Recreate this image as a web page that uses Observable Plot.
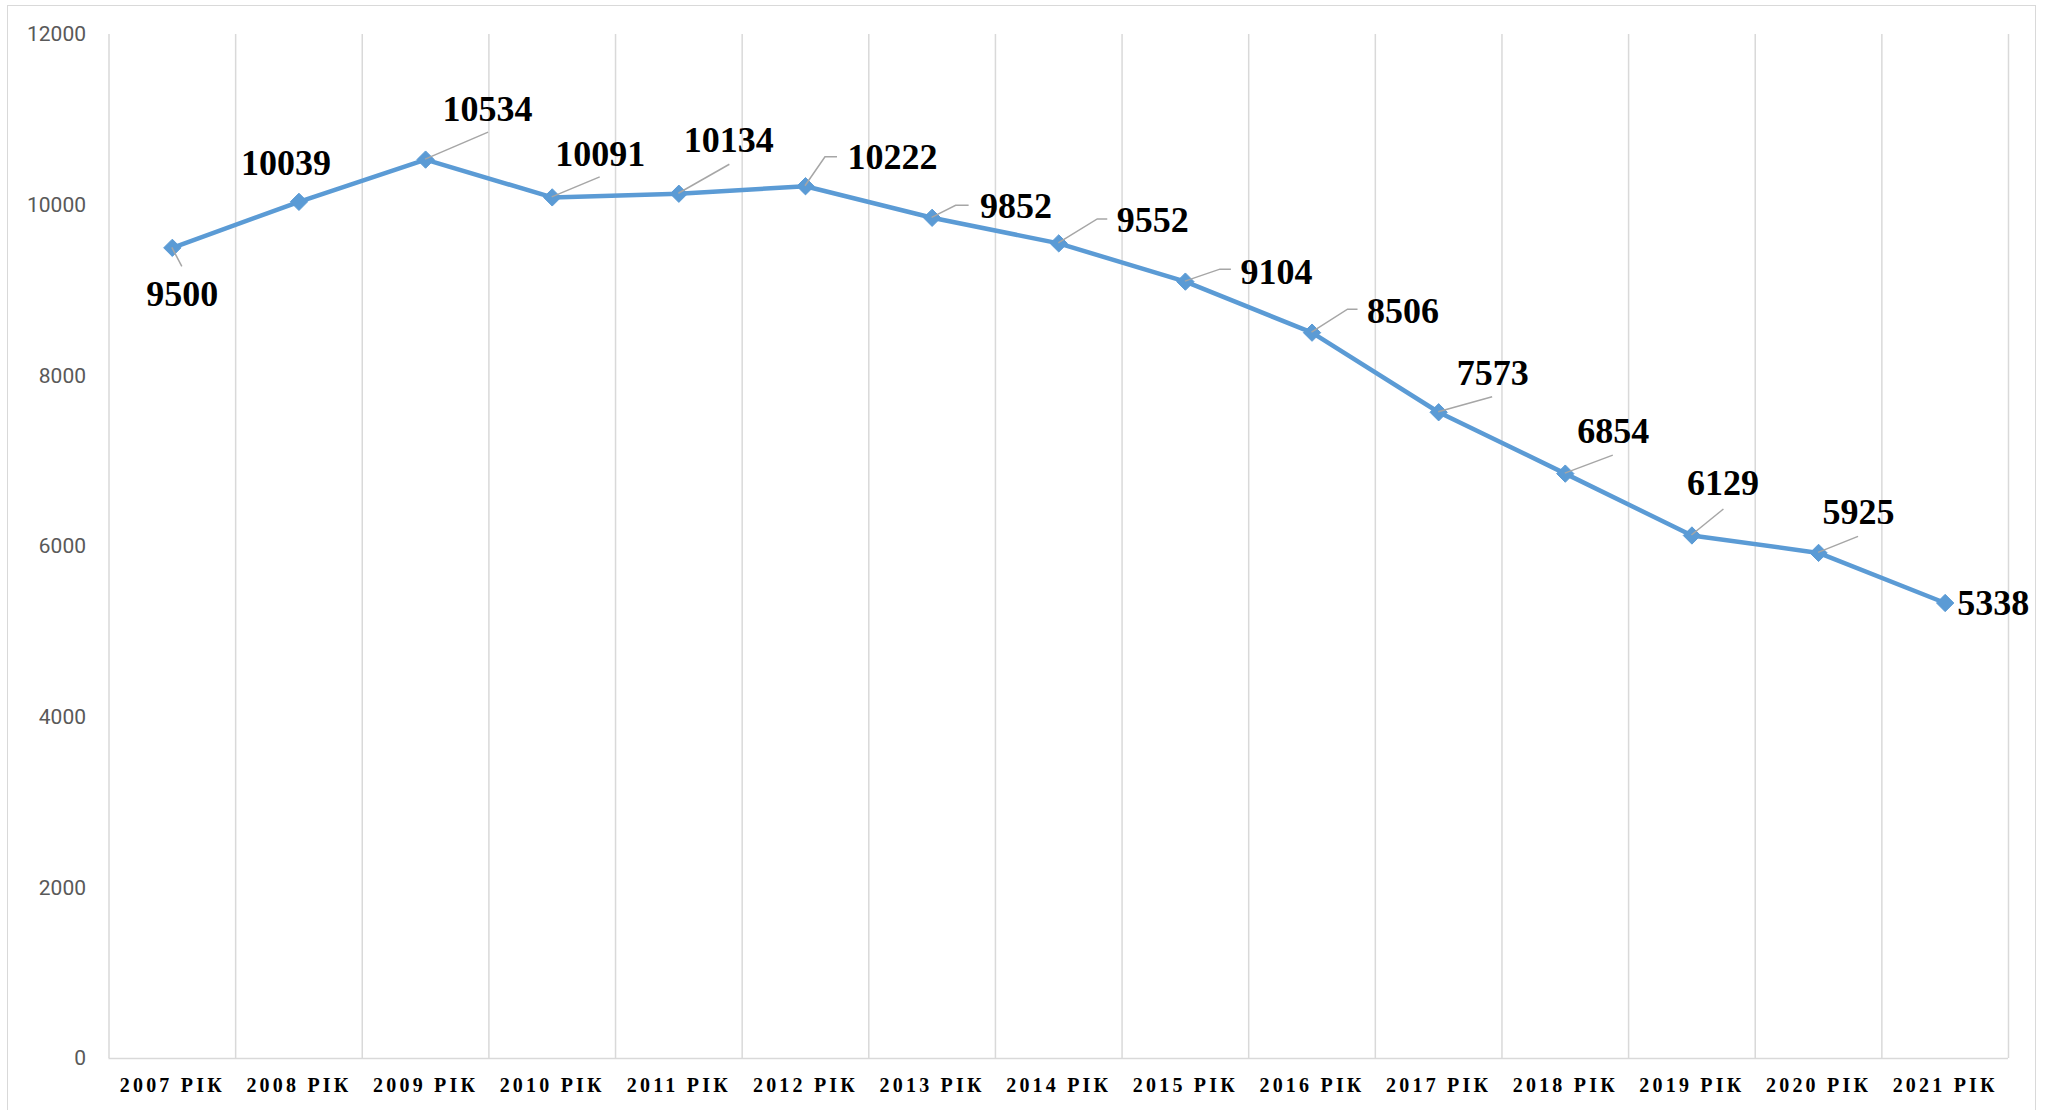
<!DOCTYPE html>
<html>
<head>
<meta charset="utf-8">
<script src="https://cdn.jsdelivr.net/npm/d3@7"></script>
<script src="https://cdn.jsdelivr.net/npm/@observablehq/plot@0.6"></script>
<style>
  html, body { margin: 0; padding: 0; background: #fff; overflow: hidden; }
  #wrap { position: relative; width: 2051px; height: 1110px; }
  #border { position: absolute; left: 7px; top: 5px; width: 2029px; height: 1106px; border: 1.5px solid #d9d9d9; box-sizing: border-box; pointer-events: none; }
  g[aria-label="x-axis tick label"] text { letter-spacing: 3.2px; }
</style>
</head>
<body>
<div id="wrap"><div id="border"></div></div>
<script>
// ---- data ----
const years = ["2007 РІК","2008 РІК","2009 РІК","2010 РІК","2011 РІК","2012 РІК","2013 РІК","2014 РІК","2015 РІК","2016 РІК","2017 РІК","2018 РІК","2019 РІК","2020 РІК","2021 РІК"];
const values = [9500, 10039, 10534, 10091, 10134, 10222, 9852, 9552, 9104, 8506, 7573, 6854, 6129, 5925, 5338];
const yTicks = [0, 2000, 4000, 6000, 8000, 10000, 12000];

// ---- layout (pixel offsets of data labels & leader lines from each point) ----
const labelOffsets = [[10,47],[-13,-38],[62,-50],[48,-43],[50,-53],[87,-29],[84,-11],[94,-23],[91,-9],[91,-21],[54,-39],[48,-42],[31,-52],[40,-40],[48,0]];
// leader polylines (null = no leader)
const leaders = [
  [[10,19]], null, [[63,-27]], [[48,-20]], [[51,-29]],
  [[20,-29],[32,-29]], [[24,-12],[37,-12]], [[39,-24],[49,-24]], [[35,-12],[46,-12]], [[36,-23],[46,-23]],
  [[54,-15]], [[48,-18]], [[32,-26]], [[40,-16]], null
];

const rows = years.map((y, i) => ({i, pos: i + 0.5, year: y, value: values[i]}));
const blue = "#5B9BD5";

const leaderMark = (index, scales) => {
  const g = d3.create("svg:g").attr("fill", "none").attr("stroke", "#a6a6a6").attr("stroke-width", 1.5);
  rows.forEach((r, i) => {
    if (!leaders[i]) return;
    const x0 = scales.x(r.pos), y0 = scales.y(r.value);
    const pts = [[x0, y0], ...leaders[i].map(([dx, dy]) => [x0 + dx, y0 + dy])];
    g.append("path").attr("d", "M" + pts.map(p => p.join(",")).join("L"));
  });
  return g.node();
};

const chart = Plot.plot({
  width: 2051,
  height: 1110,
  marginLeft: 108.5,
  marginRight: 43,
  marginTop: 34,
  marginBottom: 52,
  style: {background: "transparent", overflow: "visible"},
  x: {type: "linear", domain: [0, years.length], axis: null, label: null},
  y: {domain: [0, 12000], axis: null, label: null},
  marks: [
    Plot.ruleX(d3.range(years.length + 1), {x: d => d, y1: 0, y2: 12000, stroke: "#d9d9d9", strokeWidth: 1.5}),
    Plot.ruleY([0], {stroke: "#d9d9d9", strokeWidth: 1.5}),
    Plot.axisY({ticks: yTicks, label: null, tickSize: 0, tickPadding: 23, tickFormat: d => String(d), fontSize: 21, fill: "#595959", fontFamily: "Roboto, 'Liberation Sans', sans-serif"}),
    Plot.axisX({ticks: rows.map(r => r.pos), label: null, tickSize: 0, tickPadding: 19, tickFormat: v => years[Math.floor(v)], fontSize: 20, fontWeight: "bold", fill: "#000", fontFamily: "'Liberation Serif', 'Times New Roman', serif"}),
    Plot.line(rows, {x: "pos", y: "value", stroke: blue, strokeWidth: 4.5, strokeLinejoin: "round"}),
    Plot.dot(rows, {x: "pos", y: "value", symbol: "diamond2", r: 7.8, fill: blue, stroke: blue, strokeWidth: 1}),
    leaderMark,
    ...rows.map((r, i) => Plot.text([r], {
      x: "pos", y: "value", text: d => String(d.value),
      dx: labelOffsets[i][0], dy: labelOffsets[i][1],
      textAnchor: "middle", lineAnchor: "middle",
      fontSize: 36, fontWeight: "bold", fill: "#000",
      fontFamily: "'Liberation Serif', 'Times New Roman', serif"
    }))
  ]
});
document.getElementById("wrap").appendChild(chart);
chart.style.position = "absolute";
chart.style.left = "0px";
chart.style.top = "0px";
</script>
</body>
</html>
